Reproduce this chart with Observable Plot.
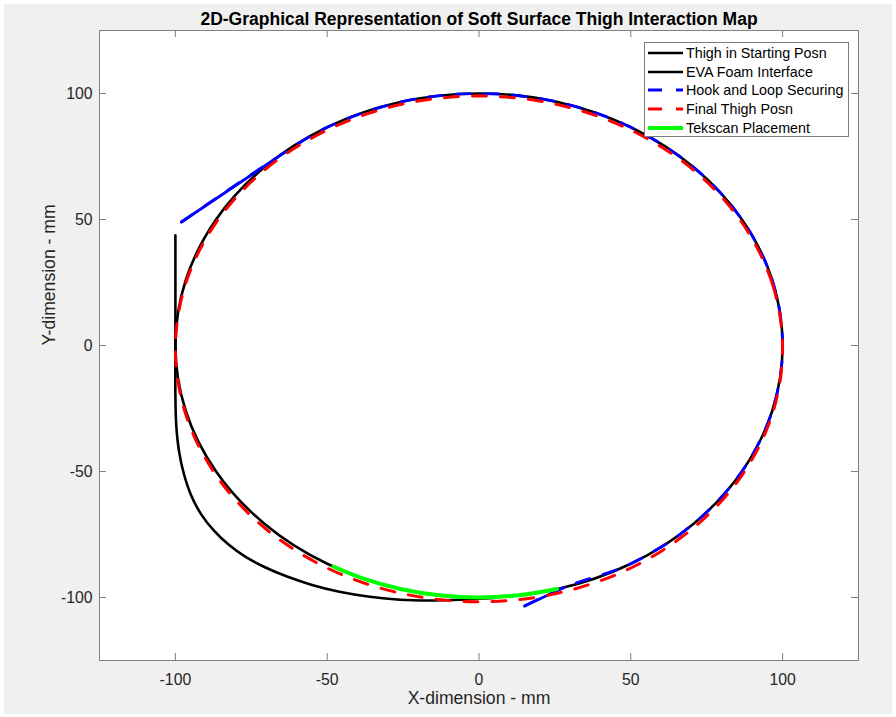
<!DOCTYPE html>
<html><head><meta charset="utf-8">
<script src="https://cdn.jsdelivr.net/npm/d3@7"></script>
<script src="https://cdn.jsdelivr.net/npm/@observablehq/plot@0.6"></script>
<style>
body{margin:0;background:#fff;font-family:"Liberation Sans",Arial,sans-serif;}
#wrap{position:relative;width:896px;height:717px;overflow:hidden;}
#bg{position:absolute;left:4px;top:4px;width:888px;height:710px;background:#f0f0f0;}
#chart{position:absolute;left:0;top:0;}
#legend{position:absolute;left:644px;top:42px;width:205px;height:95px;box-sizing:border-box;border:1px solid #7a7a7a;background:#fff;}
.row{position:absolute;left:0;height:18px;display:flex;align-items:center;font-size:14.3px;color:#000;white-space:nowrap;}
.row svg{margin-left:3px;margin-right:3px;}
</style></head><body>
<div id="wrap"><div id="bg"></div><div id="chart"></div><div id="legend"></div></div>
<script>
// ---- data ----
const xTicks = [-100, -50, 0, 50, 100];
const yTicks = [-100, -50, 0, 50, 100];

const seriesNames = ["Thigh in Starting Posn", "EVA Foam Interface", "Hook and Loop Securing", "Final Thigh Posn", "Tekscan Placement"];

// Thigh in Starting Posn (closed loop)
const startX = [100, 96.6, 86.6, 70.7, 50, 25.9, 0, -25.9, -50, -70.7, -86.6, -96.6, -100, -96.6, -86.6, -70.7, -50, -25.9, 0, 25.9, 50, 70.7, 86.6, 96.6];
const startY = [0, 25.9, 50, 70.7, 86.6, 96.6, 100, 96.6, 86.6, 70.7, 50, 25.9, 0, -25.9, -50, -70.7, -86.6, -96.6, -100, -96.6, -86.6, -70.7, -50, -25.9];

// EVA Foam Interface
const evaX = [-100, -100, -100, -100, -99.7, -98.8, -97.2, -94.8, -91.5, -87.3, -82.5, -77, -70.5, -63, -55, -46, -36, -26, -16, -6, 5];
const evaY = [43.7, 20, 0, -20, -32, -42, -51, -59.5, -67, -73.5, -79, -83.8, -88, -91.8, -95, -97.7, -99.7, -100.9, -101.2, -100.9, -100.2];

// Hook and Loop Securing
const hookX = [-98, -67, -50, -25.9, 0, 25.9, 50, 70.7, 86.6, 96.6, 100, 96.6, 86.6, 70.7, 50, 28, 15];
const hookY = [49, 74.2, 86.6, 96.6, 100, 96.6, 86.6, 70.7, 50, 25.9, 0, -25.9, -50, -70.7, -86.6, -96, -103.4];

// Final Thigh Posn (closed loop)
const finalX = [100, 96.6, 86.6, 70.7, 50, 25.9, 0, -25.9, -50, -70.7, -86.6, -96.6, -100, -96.6, -86.6, -70.7, -50, -25.9, 0, 25.9, 50, 70.7, 86.6, 96.6];
const finalY = [-1.4, 24.6, 48.8, 69.6, 85.5, 95.6, 99.0, 95.6, 85.5, 69.6, 48.8, 24.6, -1.4, -27.3, -51.5, -72.3, -88.3, -98.3, -101.7, -98.3, -88.3, -72.3, -51.5, -27.3];

// Tekscan Placement
const tekX = [-48, -38.3, -25.9, -13.1, 0, 13.1, 25.7];
const tekY = [-87.7, -92.4, -96.6, -99.1, -100, -99.1, -96.6];

// ---- styles ----
const colors = {start: "#000000", eva: "#000000", hook: "#0000ff", final: "#ff0000", tek: "#00ff00"};
const dash = "14,14";
const axisColor = "#808080";
const textColor = "#262626";

const pts = (xs, ys) => xs.map((x, i) => ({x, y: ys[i]}));
const startPts = pts(startX, startY);
const evaPts = pts(evaX, evaY);
const hookPts = pts(hookX, hookY);
const finalPts = pts(finalX, finalY);
const tekPts = pts(tekX, tekY);

const W = 896, H = 717, mL = 99, mR = 38, mT = 30, mB = 57;
const plotW = W - mL - mR, plotH = H - mT - mB;
const tickLen = 7;

const chart = Plot.plot({
  width: W, height: H,
  marginLeft: mL, marginRight: mR, marginTop: mT, marginBottom: mB,
  style: {background: "transparent", fontFamily: "'Liberation Sans', Arial, sans-serif", color: textColor, overflow: "visible"},
  x: {domain: [-125, 125]},
  y: {domain: [-125, 125]},
  marks: [
    Plot.frame({fill: "white", stroke: null}),
    Plot.axisX({ticks: xTicks, tickSize: 0, tickPadding: 13, tickFormat: d => String(d), fontSize: 15.8, label: null, fill: textColor}),
    Plot.axisY({ticks: yTicks, tickSize: 0, tickPadding: 7, tickFormat: d => String(d), fontSize: 15.8, label: null, fill: textColor}),
    Plot.tickX(xTicks, {x: d => d, insetTop: plotH - tickLen, stroke: axisColor}),
    Plot.tickX(xTicks, {x: d => d, insetBottom: plotH - tickLen, stroke: axisColor}),
    Plot.tickY(yTicks, {y: d => d, insetRight: plotW - tickLen, stroke: axisColor}),
    Plot.tickY(yTicks, {y: d => d, insetLeft: plotW - tickLen, stroke: axisColor}),
    Plot.line(startPts, {x: "x", y: "y", stroke: colors.start, strokeWidth: 2.6, curve: "catmull-rom-closed"}),
    Plot.line(evaPts, {x: "x", y: "y", stroke: colors.eva, strokeWidth: 2.6, curve: "catmull-rom"}),
    Plot.line(hookPts, {x: "x", y: "y", stroke: colors.hook, strokeWidth: 2.8, strokeDasharray: dash, curve: "catmull-rom"}),
    Plot.line(hookPts.slice(0, 2), {x: "x", y: "y", stroke: colors.hook, strokeWidth: 2.8}),
    Plot.line(hookPts.slice(-2), {x: "x", y: "y", stroke: colors.hook, strokeWidth: 2.8}),
    Plot.line(finalPts, {x: "x", y: "y", stroke: colors.final, strokeWidth: 3, strokeDasharray: dash, curve: "catmull-rom-closed"}),
    Plot.line(tekPts, {x: "x", y: "y", stroke: colors.tek, strokeWidth: 4, curve: "catmull-rom"}),
    Plot.frame({stroke: axisColor}),
    Plot.text(["2D-Graphical Representation of Soft Surface Thigh Interaction Map"], {frameAnchor: "top", lineAnchor: "middle", dy: -11.5, fontSize: 17.5, fontWeight: "bold", fill: "#000"}),
    Plot.text(["X-dimension - mm"], {frameAnchor: "bottom", dy: 43.4, fontSize: 17.6, fill: textColor}),
    Plot.text(["Y-dimension - mm"], {frameAnchor: "left", dx: -50, rotate: -90, fontSize: 17.6, fill: textColor})
  ]
});
document.getElementById("chart").appendChild(chart);

// ---- legend ----
const legendStyles = [
  {stroke: colors.start, width: 2.6, dash: null},
  {stroke: colors.eva, width: 2.6, dash: null},
  {stroke: colors.hook, width: 2.8, dash: dash},
  {stroke: colors.final, width: 3, dash: dash},
  {stroke: colors.tek, width: 4, dash: null}
];
const leg = document.getElementById("legend");
seriesNames.forEach((name, i) => {
  const s = legendStyles[i];
  const row = document.createElement("div");
  row.className = "row";
  row.style.top = (10 + i * 18.7 - 9) + "px";
  row.innerHTML = `<svg width="35" height="18"><line x1="0" x2="35" y1="9" y2="9" stroke="${s.stroke}" stroke-width="${s.width}" ${s.dash ? `stroke-dasharray="${s.dash}"` : ""}/></svg><span>${name}</span>`;
  leg.appendChild(row);
});
</script>
</body></html>
